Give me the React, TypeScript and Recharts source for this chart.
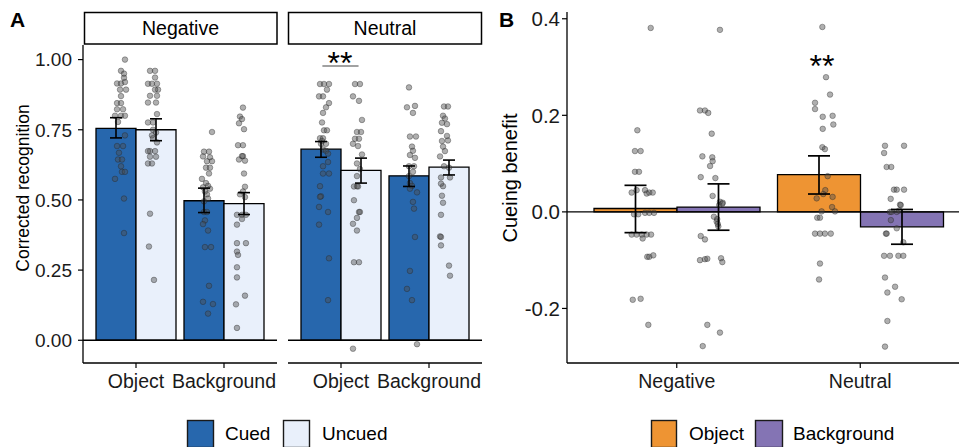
import React from 'react';
import { ComposedChart, Bar, Scatter, XAxis, YAxis, ReferenceLine, ErrorBar } from 'recharts';

const FONT = '"Liberation Sans", Arial, Helvetica, sans-serif';

// ---------- Panel A data ----------
const conditionsA = ['Object', 'Background'];
const facetNames = ['Negative', 'Neutral'];
const legendA = ['Cued', 'Uncued'];

const negCuedMean = [0.755, 0.497];
const negCuedLo = [0.721, 0.455];
const negCuedHi = [0.793, 0.542];
const negUncuedMean = [0.75, 0.487];
const negUncuedLo = [0.711, 0.448];
const negUncuedHi = [0.789, 0.526];

const neuCuedMean = [0.681, 0.586];
const neuCuedLo = [0.652, 0.548];
const neuCuedHi = [0.708, 0.621];
const neuUncuedMean = [0.605, 0.617];
const neuUncuedLo = [0.56, 0.589];
const neuUncuedHi = [0.649, 0.642];

const ticksA = [0, 0.25, 0.5, 0.75, 1.0];
const ticksB = [-0.2, 0, 0.2, 0.4];

// individual participant points: [x position on category scale (1 = Object, 2 = Background), value]
const negCuedObjPts = [[0.876,1.00],[0.831,0.96],[0.865,0.95],[0.865,0.935],[0.786,0.915],[0.831,0.915],[0.876,0.92],[0.888,0.893],[0.82,0.893],[0.831,0.87],[0.786,0.845],[0.831,0.845],[0.786,0.823],[0.854,0.823],[0.763,0.80],[0.831,0.80],[0.876,0.80],[0.797,0.778],[0.876,0.73],[0.786,0.692],[0.854,0.692],[0.808,0.668],[0.797,0.644],[0.842,0.644],[0.831,0.62],[0.842,0.60],[0.876,0.60],[0.763,0.575],[0.865,0.505],[0.865,0.382]];
const negUncuedObjPts = [[1.160,0.96],[1.217,0.96],[1.217,0.936],[1.137,0.914],[1.182,0.914],[1.239,0.914],[1.251,0.893],[1.217,0.893],[1.160,0.871],[1.239,0.871],[1.137,0.847],[1.228,0.847],[1.239,0.806],[1.137,0.776],[1.194,0.776],[1.194,0.75],[1.228,0.74],[1.182,0.73],[1.194,0.72],[1.239,0.705],[1.160,0.674],[1.137,0.674],[1.217,0.674],[1.160,0.654],[1.228,0.654],[1.137,0.63],[1.182,0.63],[1.160,0.451],[1.148,0.334],[1.205,0.215]];
const negCuedBkgPts = [[1.863,0.742],[1.772,0.672],[1.829,0.672],[1.761,0.655],[1.840,0.652],[1.806,0.638],[1.863,0.638],[1.795,0.615],[1.840,0.615],[1.829,0.594],[1.749,0.575],[1.795,0.56],[1.818,0.55],[1.761,0.545],[1.840,0.54],[1.783,0.53],[1.806,0.52],[1.818,0.505],[1.772,0.495],[1.772,0.457],[1.806,0.457],[1.783,0.427],[1.761,0.414],[1.818,0.391],[1.783,0.332],[1.852,0.332],[1.829,0.194],[1.761,0.137],[1.874,0.129],[1.818,0.095]];
const negUncuedBkgPts = [[2.214,0.829],[2.180,0.797],[2.203,0.788],[2.169,0.773],[2.226,0.752],[2.158,0.695],[2.214,0.695],[2.214,0.656],[2.203,0.656],[2.169,0.644],[2.237,0.64],[2.226,0.594],[2.237,0.547],[2.214,0.53],[2.237,0.51],[2.180,0.52],[2.146,0.447],[2.203,0.447],[2.248,0.447],[2.203,0.432],[2.146,0.412],[2.146,0.346],[2.248,0.346],[2.146,0.316],[2.158,0.304],[2.146,0.26],[2.146,0.224],[2.237,0.159],[2.135,0.128],[2.146,0.044]];

const neuCuedObjPts = [[0.763,0.913],[0.808,0.913],[0.865,0.913],[0.842,0.893],[0.752,0.869],[0.797,0.869],[0.865,0.845],[0.831,0.83],[0.797,0.81],[0.786,0.776],[0.808,0.748],[0.842,0.748],[0.763,0.72],[0.797,0.72],[0.786,0.71],[0.774,0.70],[0.831,0.70],[0.797,0.68],[0.831,0.675],[0.854,0.665],[0.854,0.635],[0.797,0.62],[0.797,0.594],[0.865,0.594],[0.763,0.549],[0.774,0.513],[0.763,0.511],[0.752,0.475],[0.854,0.457],[0.752,0.412],[0.865,0.292],[0.854,0.143]];
const neuUncuedObjPts = [[1.160,0.913],[1.216,0.913],[1.137,0.869],[1.205,0.853],[1.239,0.785],[1.182,0.742],[1.228,0.742],[1.160,0.718],[1.205,0.718],[1.137,0.70],[1.194,0.692],[1.239,0.662],[1.182,0.63],[1.216,0.61],[1.182,0.585],[1.182,0.549],[1.148,0.548],[1.194,0.548],[1.148,0.499],[1.205,0.457],[1.216,0.457],[1.182,0.436],[1.137,0.415],[1.182,0.391],[1.148,0.278],[1.205,0.278],[1.137,-0.03]];
const neuCuedBkgPts = [[1.772,0.901],[1.749,0.83],[1.840,0.835],[1.817,0.81],[1.783,0.726],[1.851,0.726],[1.806,0.69],[1.817,0.675],[1.783,0.66],[1.840,0.65],[1.772,0.62],[1.829,0.62],[1.817,0.60],[1.772,0.585],[1.783,0.56],[1.806,0.55],[1.783,0.54],[1.863,0.527],[1.817,0.493],[1.829,0.469],[1.840,0.368],[1.783,0.247],[1.749,0.183],[1.806,0.143],[1.863,-0.014]];
const neuUncuedBkgPts = [[2.169,0.833],[2.214,0.833],[2.158,0.80],[2.180,0.79],[2.146,0.775],[2.203,0.77],[2.135,0.745],[2.203,0.728],[2.146,0.71],[2.214,0.712],[2.158,0.69],[2.180,0.674],[2.124,0.655],[2.169,0.62],[2.226,0.615],[2.135,0.58],[2.237,0.58],[2.158,0.549],[2.135,0.558],[2.146,0.515],[2.158,0.49],[2.135,0.447],[2.124,0.37],[2.135,0.368],[2.135,0.338],[2.226,0.266],[2.237,0.23]];

// ---------- Panel B data ----------
const valenceB = ['Negative', 'Neutral'];
const legendB = ['Object', 'Background'];
const objBenefitMean = [0.007, 0.077];
const objBenefitLo = [-0.043, 0.037];
const objBenefitHi = [0.055, 0.116];
const bgBenefitMean = [0.01, -0.031];
const bgBenefitLo = [-0.038, -0.067];
const bgBenefitHi = [0.058, 0.005];

const negObjBenefitPts = [[0.857,0.381],[0.784,0.169],[0.771,0.126],[0.802,0.126],[0.771,0.083],[0.793,0.083],[0.753,0.04],[0.780,0.045],[0.826,0.045],[0.849,0.04],[0.868,0.04],[0.835,0.038],[0.766,-0.005],[0.789,-0.005],[0.826,-0.002],[0.849,-0.002],[0.875,-0.002],[0.753,-0.047],[0.780,-0.047],[0.808,-0.047],[0.835,-0.047],[0.859,-0.047],[0.813,-0.055],[0.838,-0.093],[0.849,-0.093],[0.871,-0.09],[0.759,-0.182],[0.802,-0.18],[0.844,-0.234]];
const negBgBenefitPts = [[1.235,0.377],[1.126,0.21],[1.153,0.21],[1.171,0.205],[1.190,0.162],[1.139,0.115],[1.193,0.113],[1.195,0.105],[1.181,0.095],[1.130,0.072],[1.210,0.07],[1.195,0.033],[1.235,0.021],[1.250,0.019],[1.231,0.014],[1.248,0.017],[1.202,-0.01],[1.220,-0.015],[1.217,-0.02],[1.226,-0.03],[1.223,-0.025],[1.130,-0.05],[1.153,-0.057],[1.126,-0.1],[1.153,-0.098],[1.166,-0.097],[1.241,-0.096],[1.248,-0.104],[1.166,-0.234],[1.235,-0.25],[1.141,-0.278]];
const neuObjBenefitPts = [[1.794,0.383],[1.814,0.279],[1.836,0.243],[1.754,0.226],[1.754,0.213],[1.796,0.197],[1.850,0.199],[1.854,0.181],[1.796,0.172],[1.794,0.134],[1.808,0.13],[1.823,0.074],[1.810,0.045],[1.799,0.037],[1.763,0.028],[1.850,0.031],[1.847,0.01],[1.863,0.001],[1.790,0.001],[1.766,-0.012],[1.781,-0.012],[1.754,-0.045],[1.781,-0.045],[1.808,-0.045],[1.840,-0.045],[1.781,-0.107],[1.776,-0.14]];
const neuBgBenefitPts = [[2.136,0.137],[2.240,0.137],[2.131,0.122],[2.145,0.093],[2.170,0.093],[2.185,0.046],[2.200,0.046],[2.240,0.046],[2.167,0.027],[2.218,0.015],[2.163,0.0],[2.200,0.0],[2.214,0.003],[2.168,-0.017],[2.222,0.014],[2.172,0.0],[2.200,-0.034],[2.141,-0.045],[2.145,-0.045],[2.236,-0.063],[2.131,-0.091],[2.163,-0.091],[2.209,-0.091],[2.236,-0.091],[2.136,-0.136],[2.191,-0.155],[2.149,-0.167],[2.227,-0.181],[2.149,-0.226],[2.136,-0.279]];

// ---------- styling ----------
const CUED = '#2767ad';
const UNCUED = '#e9f0fb';
const OBJ = '#ee9433';
const BKG = '#8474b4';
const A_DOMAIN: [number, number] = [-0.081, 1.052];
const B_DOMAIN: [number, number] = [-0.313, 0.414];

const toPts = (arrs: number[][][]) => arrs.flat().map(([x, y]) => ({ x, y }));

function buildRows(cats: string[], mA: number[], loA: number[], hiA: number[], mB: number[], loB: number[], hiB: number[]) {
  return cats.map((c, i) => ({
    cond: c,
    a: mA[i],
    aErr: [mA[i] - loA[i], hiA[i] - mA[i]],
    b: mB[i],
    bErr: [mB[i] - loB[i], hiB[i] - mB[i]],
  }));
}

const negRows = buildRows(conditionsA, negCuedMean, negCuedLo, negCuedHi, negUncuedMean, negUncuedLo, negUncuedHi);
const neuRows = buildRows(conditionsA, neuCuedMean, neuCuedLo, neuCuedHi, neuUncuedMean, neuUncuedLo, neuUncuedHi);
const bRows = buildRows(valenceB, objBenefitMean, objBenefitLo, objBenefitHi, bgBenefitMean, bgBenefitLo, bgBenefitHi);

const negPts = toPts([negCuedObjPts, negUncuedObjPts, negCuedBkgPts, negUncuedBkgPts]);
const neuPts = toPts([neuCuedObjPts, neuUncuedObjPts, neuCuedBkgPts, neuUncuedBkgPts]);
const bPts = toPts([negObjBenefitPts, negBgBenefitPts, neuObjBenefitPts, neuBgBenefitPts]);

const Dot = (p: any) => (
  <circle cx={p.cx} cy={p.cy} r={2.8} fill="#4d4d4d" fillOpacity={0.45} stroke="#222" strokeOpacity={0.45} strokeWidth={0.8} />
);

const axisLine = { stroke: '#000', strokeWidth: 1.3 };
const tickLine = { stroke: '#000', strokeWidth: 1.2 };

function Facet({ rows, pts, showY, left, width, sig }: any) {
  return (
    <div style={{ position: 'absolute', left, top: 0 }}>
      <ComposedChart width={width} height={400} data={rows} margin={{ top: 45, right: 0, bottom: 0, left: 0 }} barCategoryGap={4} barGap={0}>
        <XAxis xAxisId="cat" dataKey="cond" type="category" padding={{ left: 9, right: 9 }} height={37} interval={0}
          tickSize={5} tickMargin={6} axisLine={axisLine} tickLine={tickLine}
          tick={{ fill: '#1a1a1a', fontSize: 19.5, fontFamily: FONT }} />
        <XAxis xAxisId="cat2" dataKey="cond" type="category" padding={{ left: 9, right: 9 }} hide />
        <XAxis xAxisId="num" dataKey="x" type="number" domain={[0.4, 2.6]} allowDataOverflow hide />
        <YAxis dataKey="y" type="number" domain={A_DOMAIN} ticks={ticksA} allowDataOverflow interval={0}
          width={showY ? 83 : 0} hide={!showY} tickSize={5} tickMargin={6}
          axisLine={axisLine} tickLine={tickLine} tickFormatter={(v: number) => v.toFixed(2)}
          tick={{ fill: '#1a1a1a', fontSize: 19, fontFamily: FONT }} />
        <Bar xAxisId="cat" dataKey="a" name={legendA[0]} fill={CUED} stroke="#000" strokeWidth={1.3} isAnimationActive={false} />
        <Bar xAxisId="cat" dataKey="b" name={legendA[1]} fill={UNCUED} stroke="#000" strokeWidth={1.3} isAnimationActive={false} />
        <ReferenceLine xAxisId="cat" y={0} stroke="#000" strokeWidth={1.3} />
        <Scatter xAxisId="num" data={pts} dataKey="y" shape={Dot} isAnimationActive={false} />
        <Bar xAxisId="cat2" dataKey="a" fill="none" stroke="none" isAnimationActive={false} zIndex={700}>
          <ErrorBar dataKey="aErr" width={6} stroke="#000" strokeWidth={1.6} direction="y" isAnimationActive={false} zIndex={700} />
        </Bar>
        <Bar xAxisId="cat2" dataKey="b" fill="none" stroke="none" isAnimationActive={false} zIndex={700}>
          <ErrorBar dataKey="bErr" width={6} stroke="#000" strokeWidth={1.6} direction="y" isAnimationActive={false} zIndex={700} />
        </Bar>
        {sig ? (
          <ReferenceLine xAxisId="num" segment={[{ x: 0.79, y: 0.977 }, { x: 1.2, y: 0.977 }]} stroke="#444" strokeWidth={1.1} />
        ) : null}
      </ComposedChart>
    </div>
  );
}

function PanelB() {
  return (
    <div style={{ position: 'absolute', left: 490, top: 0 }}>
      <ComposedChart width={480} height={400} data={bRows} margin={{ top: 12, right: 0, bottom: 0, left: 0 }} barCategoryGap={9} barGap={0}>
        <XAxis xAxisId="cat" dataKey="cond" type="category" padding={{ left: 18, right: 18 }} height={37} interval={0}
          tickSize={5} tickMargin={6} axisLine={axisLine} tickLine={tickLine}
          tick={{ fill: '#1a1a1a', fontSize: 19.5, fontFamily: FONT }} />
        <XAxis xAxisId="cat2" dataKey="cond" type="category" padding={{ left: 18, right: 18 }} hide />
        <XAxis xAxisId="num" dataKey="x" type="number" domain={[0.4, 2.6]} allowDataOverflow hide />
        <YAxis dataKey="y" type="number" domain={B_DOMAIN} ticks={ticksB} allowDataOverflow interval={0}
          width={77} tickSize={5} tickMargin={2} axisLine={axisLine} tickLine={tickLine}
          tickFormatter={(v: number) => v.toFixed(1)}
          tick={{ fill: '#1a1a1a', fontSize: 20.5, fontFamily: FONT }} />
        <Bar xAxisId="cat" dataKey="a" name={legendB[0]} fill={OBJ} stroke="#000" strokeWidth={1.3} isAnimationActive={false} />
        <Bar xAxisId="cat" dataKey="b" name={legendB[1]} fill={BKG} stroke="#000" strokeWidth={1.3} isAnimationActive={false} />
        <ReferenceLine xAxisId="cat" y={0} stroke="#000" strokeWidth={1.3} />
        <Scatter xAxisId="num" data={bPts} dataKey="y" shape={Dot} isAnimationActive={false} />
        <Bar xAxisId="cat2" dataKey="a" fill="none" stroke="none" isAnimationActive={false} zIndex={700}>
          <ErrorBar dataKey="aErr" width={11} stroke="#000" strokeWidth={1.7} direction="y" isAnimationActive={false} zIndex={700} />
        </Bar>
        <Bar xAxisId="cat2" dataKey="b" fill="none" stroke="none" isAnimationActive={false} zIndex={700}>
          <ErrorBar dataKey="bErr" width={11} stroke="#000" strokeWidth={1.7} direction="y" isAnimationActive={false} zIndex={700} />
        </Bar>
      </ComposedChart>
    </div>
  );
}

function Overlay() {
  const t = { fontFamily: FONT, fill: '#000' };
  return (
    <svg width={959} height={447} style={{ position: 'absolute', left: 0, top: 0, pointerEvents: 'none' }}>
      <text x={10} y={27} fontSize={21} fontWeight="bold" {...t}>A</text>
      <text x={499} y={27} fontSize={21} fontWeight="bold" {...t}>B</text>
      <rect x={84.5} y={12.5} width={192.5} height={31.5} fill="#fff" stroke="#000" strokeWidth={1.5} />
      <text x={180.5} y={35} fontSize={19.5} textAnchor="middle" {...t}>{facetNames[0]}</text>
      <rect x={288.5} y={12.5} width={193} height={31.5} fill="#fff" stroke="#000" strokeWidth={1.5} />
      <text x={385} y={35} fontSize={19.5} textAnchor="middle" {...t}>{facetNames[1]}</text>
      <text transform="translate(29,188) rotate(-90)" fontSize={17.5} textAnchor="middle" {...t}>Corrected recognition</text>
      <text transform="translate(517,178) rotate(-90)" fontSize={20} textAnchor="middle" {...t}>Cueing benefit</text>
      <text x={340} y={74} fontSize={32} textAnchor="middle" {...t}>**</text>
      <text x={822} y={77} fontSize={32} textAnchor="middle" {...t}>**</text>
      <rect x={187.5} y={420.5} width={26} height={27} fill={CUED} stroke="#1a1a1a" strokeWidth={1.4} />
      <text x={225} y={440} fontSize={19} {...t}>{legendA[0]}</text>
      <rect x={283.5} y={420.5} width={26} height={27} fill={UNCUED} stroke="#1a1a1a" strokeWidth={1.4} />
      <text x={322} y={440} fontSize={19} {...t}>{legendA[1]}</text>
      <rect x={651.5} y={420.5} width={25} height={27} fill={OBJ} stroke="#1a1a1a" strokeWidth={1.4} />
      <text x={689} y={440} fontSize={19} {...t}>{legendB[0]}</text>
      <rect x={755.5} y={420.5} width={27} height={27} fill={BKG} stroke="#1a1a1a" strokeWidth={1.4} />
      <text x={793} y={440} fontSize={19} {...t}>{legendB[1]}</text>
    </svg>
  );
}

export default function App() {
  return (
    <div style={{ position: 'absolute', left: 0, top: 0, width: 959, height: 447, overflow: 'hidden', background: '#fff', fontFamily: FONT }}>
      <Facet rows={negRows} pts={negPts} showY left={0} width={277} sig={false} />
      <Facet rows={neuRows} pts={neuPts} showY={false} left={288} width={194} sig />
      <PanelB />
      <Overlay />
    </div>
  );
}
